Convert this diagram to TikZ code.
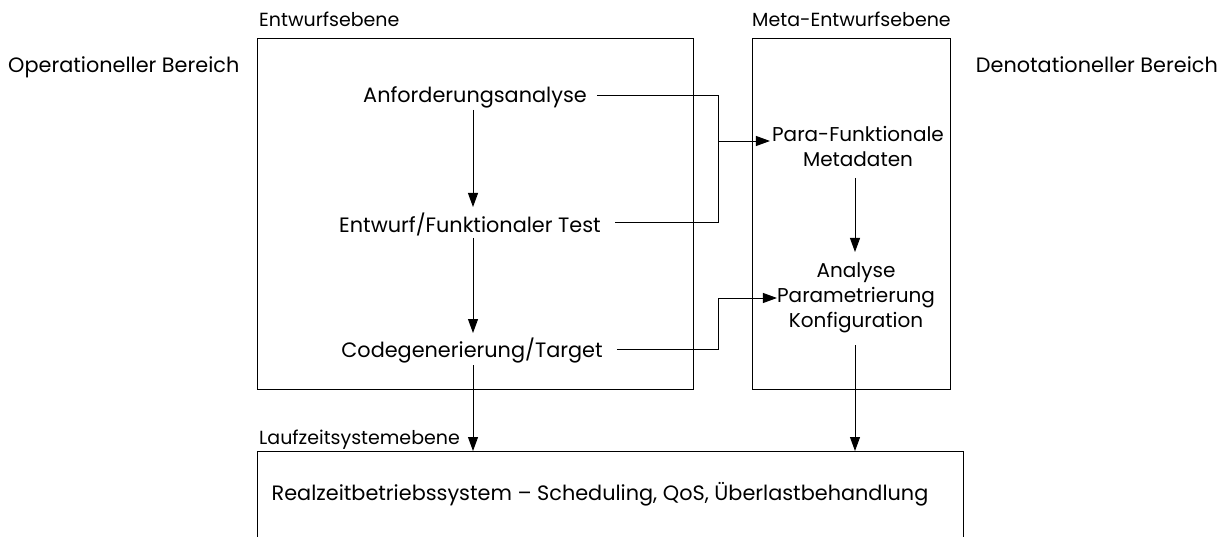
\documentclass[tikz,border=0pt]{standalone}
\usepackage{fontspec}
\setmainfont{Poppins}
\usetikzlibrary{arrows.meta}
\begin{document}
\begin{tikzpicture}[x=1pt,y=-1pt,
  font=\fontsize{20.8}{24}\selectfont,
  every node/.style={inner sep=0pt, text=black},
  line/.style={draw=black, line width=0.9pt},
  arr/.style={line, -{Triangle[length=14pt,width=10pt]}},
  lbl/.style={anchor=base west, font=\fontsize{19}{22}\selectfont},
  txt/.style={align=center}]
\useasboundingbox (0,0) rectangle (1228,537);

% frames
\draw[line] (257,38) rectangle (693,389);
\draw[line] (752,38) rectangle (950,389);
\draw[line] (257,537) -- (257,451) -- (963,451) -- (963,537);

% level titles
\node[lbl] (te) at (259,27) {Entwurfsebene};
\node[lbl] (tm) at (752,27) {Meta-Entwurfsebene};
\node[lbl] (tl) at (259,444) {Laufzeitsystemebene};
\node[anchor=base west] (op) at (8,73) {Operationeller Bereich};
\node[anchor=base east] (dn) at (1218,73) {Denotationeller Bereich};

% design steps
\node[txt] (req) at (475,97) {Anforderungsanalyse};
\node[txt] (des) at (470,224) {Entwurf/Funktionaler Test};
\node[txt] (gen) at (472,351) {Codegenerierung/Target};

% meta steps
\node[txt, font=\fontsize{20}{24}\selectfont] (meta) at (858,146) {Para-Funktionale\\[1pt]Metadaten};
\node[txt, font=\fontsize{20}{24}\selectfont] (ana) at (856,298) {Analyse\\[1pt]Parametrierung\\[1pt]Konfiguration};

% runtime
\node (rts) at (600,494) {Realzeitbetriebssystem -- Scheduling, QoS, Überlastbehandlung};

% junctions
\coordinate (j1) at (718,141);
\coordinate (j2) at (718,298);
\coordinate (b1) at (473,451);
\coordinate (b2) at (855,451);

% design flow
\draw[arr] (473,110) -- (473,207);
\draw[arr] (473,238) -- (473,333);
\draw[arr] (473,365) -- (b1);

% to meta level
\draw[line] ([xshift=10pt]req.east |- 0,95) -- (718,95) -- (718,222) -- ([xshift=14pt]des.east |- 0,222);
\draw[arr] (j1) -- ([xshift=-2pt]meta.west |- j1);
\draw[line] ([xshift=14pt]gen.east |- 0,349) -- (718,349) -- (j2);
\draw[arr] (j2) -- (ana.west |- j2);

% meta flow
\draw[arr] (855,178) -- (855,252);
\draw[arr] (855,345) -- (b2);
\end{tikzpicture}
\end{document}
